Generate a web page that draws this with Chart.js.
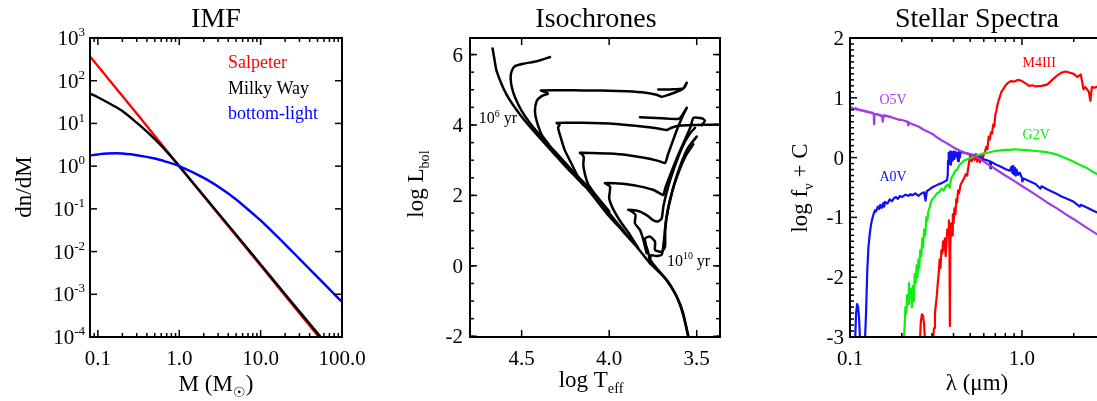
<!DOCTYPE html>
<html><head><meta charset="utf-8">
<script src="https://cdn.jsdelivr.net/npm/chart.js@4.4.1/dist/chart.umd.min.js"></script>
<style>
html,body{margin:0;padding:0;background:#fff;overflow:hidden;}
#wrap{position:relative;width:1097px;height:401px;overflow:hidden;background:#fff;}
canvas{position:absolute;top:0;}
</style></head><body>
<div id="wrap">
<canvas id="c1" width="365" height="401" style="left:0px"></canvas>
<canvas id="c2" width="365" height="401" style="left:365px"></canvas>
<canvas id="c3" width="380" height="401" style="left:730px"></canvas>
</div>
<script>
// ---------------- IMF panel data ----------------
const salpeterM = [0.08, 0.3, 1, 3, 10, 30, 60];
const salpeterN = [370, 17, 1.0, 0.077, 0.0047, 3.6e-4, 7.2e-5];
const milkyWayM = [0.08, 0.1, 0.15, 0.2, 0.3, 0.4, 0.5, 0.6, 0.7, 0.8, 1, 2, 5, 10, 20, 60];
const milkyWayN = [50, 41, 27, 19.5, 10.4, 6.4, 4.27, 3.0, 2.19, 1.65, 1.0, 0.203, 0.0247, 0.005, 0.001, 8.1e-5];
const bottomLightM = [0.08, 0.1, 0.13, 0.17, 0.2, 0.3, 0.5, 0.7, 1, 2, 3.4, 5, 8.7, 10, 20, 30, 50, 70, 100];
const bottomLightN = [1.78, 1.88, 1.97, 2.0, 1.97, 1.80, 1.51, 1.26, 1.0, 0.531, 0.285, 0.166, 0.0676, 0.0537, 0.0148, 0.00676, 0.00251, 0.00132, 6.6e-4];
const imfXTicks = [0.1, 1, 10, 100];
const imfXTickLabels = ['0.1', '1.0', '10.0', '100.0'];
const imfXMinor = [0.09,0.2,0.3,0.4,0.5,0.6,0.7,0.8,0.9,2,3,4,5,6,7,8,9,20,30,40,50,60,70,80,90];
const imfYTickExps = [3, 2, 1, 0, -1, -2, -3, -4];
const imfLegend = ['Salpeter', 'Milky Way', 'bottom-light'];

// ---------------- Isochrone panel data (log Teff, log Lbol) ----------------
const iso6T = [3.543,3.577,3.614,3.671,3.767,3.843,3.925,4.014,4.129,4.224,4.319,4.414,4.51,4.586,4.643,4.655,4.666];
const iso6L = [-2.15,-1.35,-0.875,-0.40,0.074,0.545,1.0,1.49,2.21,2.69,3.21,3.73,4.30,4.86,5.53,5.85,6.17];
const iso65T = [3.835,3.915,4.0,4.112,4.21,4.305,4.40,4.452,4.50,4.535,4.555,4.563,4.557,4.538,4.491,4.414,4.338];
const iso65L = [0.52,0.98,1.50,2.20,2.70,3.22,3.74,4.05,4.40,4.75,5.05,5.34,5.53,5.67,5.74,5.81,5.93];
const iso7T = [4.345,4.386,4.414,4.424,4.414,4.386,4.35,4.375,4.39,4.30,4.20,4.10,4.00,3.90,3.80,3.73,3.70,3.66,3.62,3.58,3.557,3.575,3.65,3.72];
const iso7L = [3.45,3.73,4.11,4.39,4.68,4.82,4.89,4.95,4.98,4.985,4.985,4.98,4.975,4.955,4.92,4.86,4.80,4.86,4.93,5.02,5.20,5.04,5.01,5.01];
const iso75T = [4.15,4.18,4.22,4.255,4.28,4.292,4.283,4.30,4.20,4.10,4.00,3.90,3.80,3.72,3.67,3.64,3.60,3.50,3.42,3.35];
const iso75L = [2.30,2.55,2.95,3.30,3.70,3.93,4.01,4.06,4.065,4.06,4.04,4.00,3.95,3.90,3.86,3.93,3.98,4.00,4.01,4.01];
const iso8T = [4.00,4.05,4.09,4.119,4.138,4.148,4.145,4.155,4.167,4.10,4.00,3.90,3.80,3.72,3.681,3.665,3.64,3.61,3.585,3.557,3.60,3.70,3.824];
const iso8L = [1.55,1.85,2.10,2.31,2.59,2.88,3.08,3.17,3.21,3.205,3.19,3.15,3.07,2.98,2.92,3.15,3.50,3.90,4.20,4.49,4.18,4.19,4.22];
const iso85T = [3.84,3.881,3.929,3.975,4.00,3.995,4.024,3.95,3.90,3.82,3.75,3.71,3.691,3.68,3.65,3.61,3.57,3.535,3.519,3.47,3.453,3.472];
const iso85L = [0.55,0.88,1.21,1.59,1.92,2.25,2.35,2.34,2.32,2.25,2.16,2.06,2.01,2.20,2.60,3.10,3.55,3.95,4.20,4.19,4.12,3.99];
const iso9T = [3.786,3.805,3.824,3.853,3.85,3.875,3.891,3.83,3.78,3.75,3.72,3.70,3.69,3.66,3.62,3.58,3.54,3.51];
const iso9L = [0.36,0.74,1.02,1.21,1.45,1.56,1.59,1.55,1.42,1.30,1.26,1.35,1.70,2.30,2.90,3.40,3.75,3.92];
const iso95T = [3.767,3.775,3.79,3.795,3.767,3.738,3.738,3.70,3.681,3.68,3.665,3.63,3.59,3.55,3.50];
const iso95L = [0.07,0.35,0.60,0.78,0.83,0.69,0.45,0.40,0.55,1.00,1.60,2.30,2.90,3.35,3.67];
const iso10T = [3.54,3.58,3.615,3.675,3.74,3.765,3.76,3.73,3.70,3.69,3.675,3.64,3.60,3.56,3.52];
const iso10L = [-2.15,-1.35,-0.87,-0.39,0.0,0.18,0.30,0.28,0.32,0.60,1.30,2.10,2.70,3.15,3.45];
const isoXTicks = [4.5, 4.0, 3.5];
const isoXTickLabels = ['4.5', '4.0', '3.5'];
const isoYTicks = [6, 4, 2, 0, -2];
const isoYTickLabels = ['6', '4', '2', '0', '-2'];

// ---------------- Spectra panel data (lambda in micron, log f_nu + C) ----------------
const o5vLam = [0.100,0.102,0.104,0.106,0.108,0.110,0.112,0.114,0.116,0.118,0.120,0.122,0.124,0.126,0.128,0.130,0.132,0.134,0.136,0.1375,0.138,0.1385,0.140,0.142,0.144,0.146,0.148,0.150,0.152,0.154,0.155,0.156,0.157,0.159,0.162,0.165,0.168,0.171,0.175,0.18,0.185,0.19,0.195,0.20,0.205,0.21,0.215,0.217,0.218,0.219,0.222,0.226,0.23,0.24,0.25,0.26,0.27,0.28,0.29,0.30,0.32,0.34,0.36,0.38,0.40,0.42,0.44,0.46,0.48,0.50,0.52,0.55,0.60,0.65,0.70,0.80,0.90,1.0,1.2,1.4,1.6,1.8,2.0,2.4,2.8,3.0];
const o5vFlux = [0.83,0.84,0.82,0.81,0.83,0.80,0.81,0.79,0.80,0.78,0.79,0.77,0.78,0.76,0.77,0.75,0.76,0.74,0.75,0.72,0.56,0.71,0.73,0.72,0.73,0.71,0.72,0.70,0.71,0.69,0.60,0.68,0.70,0.71,0.69,0.70,0.68,0.69,0.67,0.66,0.65,0.64,0.63,0.63,0.62,0.61,0.60,0.59,0.54,0.59,0.58,0.57,0.56,0.54,0.52,0.49,0.46,0.44,0.42,0.40,0.34,0.29,0.25,0.21,0.17,0.14,0.11,0.09,0.07,0.06,0.04,0.005,-0.065,-0.13,-0.19,-0.30,-0.39,-0.475,-0.62,-0.75,-0.85,-0.95,-1.03,-1.18,-1.30,-1.36];
const a0vSpikeLam = [0.107,0.1085,0.110,0.1115,0.113,0.1145];
const a0vSpikeFlux = [-3.1,-2.6,-2.45,-2.5,-2.7,-3.1];
const a0vLam = [0.122,0.124,0.126,0.128,0.130,0.132,0.134,0.136,0.138,0.140,0.142,0.145,0.148,0.150,0.153,0.156,0.158,0.160,0.165,0.170,0.175,0.180,0.185,0.190,0.195,0.200,0.210,0.220,0.225,0.230,0.240,0.250,0.260,0.270,0.275,0.280,0.290,0.300,0.310,0.320,0.330,0.340,0.350,0.360,0.366,0.370,0.372,0.375,0.378,0.380,0.383,0.386,0.390,0.395,0.400,0.405,0.410,0.415,0.420,0.425,0.430,0.435,0.440,0.460,0.480,0.500,0.520,0.550,0.580,0.600,0.620,0.650,0.656,0.660,0.700,0.750,0.800,0.850,0.870,0.880,0.890,0.900,0.910,0.920,0.930,0.950,0.970,1.000,1.005,1.020,1.100,1.200,1.280,1.300,1.400,1.500,1.600,1.700,1.800,1.900,2.000,2.170,2.200,2.400,2.600,2.800,3.000];
const a0vFlux = [-3.1,-2.6,-1.9,-1.5,-1.3,-1.15,-1.05,-0.98,-0.92,-0.88,-0.90,-0.82,-0.86,-0.79,-0.84,-0.76,-0.82,-0.74,-0.77,-0.70,-0.73,-0.68,-0.66,-0.69,-0.64,-0.66,-0.62,-0.64,-0.61,-0.63,-0.60,-0.64,-0.60,-0.58,-0.72,-0.56,-0.53,-0.50,-0.48,-0.46,-0.44,-0.43,-0.41,-0.39,-0.38,-0.30,-0.05,0.08,-0.10,0.06,0.10,-0.12,0.09,-0.05,0.10,-0.02,0.10,0.02,0.08,-0.06,0.09,0.0,0.10,0.08,0.07,0.05,0.04,0.02,-0.01,-0.03,-0.04,-0.06,-0.18,-0.07,-0.11,-0.15,-0.19,-0.22,-0.15,-0.26,-0.14,-0.28,-0.17,-0.30,-0.20,-0.29,-0.25,-0.34,-0.40,-0.35,-0.39,-0.44,-0.52,-0.48,-0.53,-0.57,-0.61,-0.65,-0.68,-0.71,-0.74,-0.82,-0.79,-0.84,-0.89,-0.93,-0.97];
const g2vLam = [0.205,0.208,0.210,0.213,0.215,0.218,0.220,0.223,0.226,0.229,0.232,0.235,0.238,0.241,0.244,0.247,0.250,0.253,0.256,0.260,0.263,0.266,0.270,0.274,0.278,0.282,0.286,0.290,0.295,0.300,0.310,0.320,0.330,0.340,0.350,0.360,0.370,0.380,0.385,0.390,0.400,0.410,0.420,0.430,0.440,0.450,0.460,0.480,0.500,0.520,0.550,0.580,0.600,0.650,0.700,0.750,0.800,0.850,0.900,1.000,1.100,1.200,1.300,1.400,1.500,1.600,1.700,1.800,2.000,2.200,2.400,2.600,2.800,3.000];
const g2vFlux = [-3.1,-2.8,-2.5,-2.6,-2.3,-2.45,-2.1,-2.35,-2.2,-2.5,-2.15,-2.4,-1.95,-2.1,-1.8,-2.0,-1.7,-1.85,-1.55,-1.65,-1.35,-1.5,-1.2,-1.3,-1.0,-1.05,-0.88,-0.85,-0.75,-0.70,-0.66,-0.60,-0.58,-0.52,-0.55,-0.48,-0.45,-0.50,-0.40,-0.33,-0.28,-0.22,-0.20,-0.14,-0.10,-0.08,-0.05,-0.03,-0.01,0.01,0.04,0.06,0.07,0.09,0.11,0.12,0.13,0.13,0.14,0.13,0.12,0.11,0.10,0.09,0.07,0.05,0.02,-0.01,-0.07,-0.13,-0.18,-0.24,-0.29,-0.33];
const m4iiiSpikeLam = [0.255,0.258,0.262,0.266,0.270,0.273];
const m4iiiSpikeFlux = [-3.1,-2.75,-2.62,-2.65,-2.8,-3.1];
const m4iiiLam = [0.303,0.308,0.312,0.316,0.320,0.324,0.328,0.332,0.336,0.340,0.344,0.348,0.352,0.356,0.360,0.364,0.368,0.372,0.376,0.379,0.381,0.383,0.387,0.392,0.396,0.400,0.405,0.410,0.415,0.420,0.425,0.430,0.440,0.450,0.460,0.470,0.480,0.490,0.500,0.510,0.520,0.530,0.540,0.550,0.560,0.570,0.580,0.590,0.600,0.610,0.620,0.630,0.640,0.650,0.660,0.670,0.680,0.690,0.700,0.710,0.720,0.740,0.760,0.780,0.800,0.830,0.860,0.900,0.950,1.000,1.050,1.100,1.150,1.200,1.300,1.400,1.500,1.600,1.700,1.800,1.900,2.000,2.100,2.200,2.280,2.330,2.380,2.450,2.500,2.550,2.650,2.800,3.000];
const m4iiiFlux = [-3.1,-2.85,-2.6,-2.45,-2.3,-2.1,-1.95,-1.7,-1.85,-1.55,-1.6,-1.4,-1.55,-1.35,-1.65,-1.45,-1.2,-1.3,-1.05,-1.6,-2.82,-1.5,-1.1,-1.3,-0.95,-1.1,-0.85,-0.95,-0.7,-0.75,-0.55,-0.6,-0.45,-0.40,-0.35,-0.28,-0.30,-0.12,0.03,-0.06,0.05,-0.04,0.06,-0.07,0.03,-0.08,0.04,-0.02,0.05,0.10,0.18,0.14,0.35,0.30,0.42,0.40,0.55,0.52,0.72,0.78,0.88,1.00,1.10,1.15,1.20,1.25,1.28,1.27,1.30,1.28,1.24,1.20,1.21,1.19,1.20,1.22,1.30,1.37,1.42,1.44,1.42,1.40,1.35,1.39,1.14,1.18,1.15,1.10,0.95,1.18,1.17,1.20,1.22];
const specXTicks = [0.1, 1.0];
const specXTickLabels = ['0.1', '1.0'];
const specXMinor = [0.2,0.3,0.4,0.5,0.6,0.7,0.8,0.9,2,3];
const specYTicks = [2, 1, 0, -1, -2, -3];
const specYTickLabels = ['2', '1', '0', '-1', '-2', '-3'];
const specLabels = ['O5V', 'A0V', 'G2V', 'M4III'];

// ---------------- helpers ----------------
const SERIF = '"Liberation Serif","Times New Roman",serif';
const fnt = s => s + 'px ' + SERIF;
function pts(xs, ys) { const n = Math.min(xs.length, ys.length); const out = []; for (let i = 0; i < n; i++) out.push({x: xs[i], y: ys[i]}); return out; }
function line(data, color, w, tension) {
  return {data, borderColor: color, borderWidth: w, showLine: true, pointRadius: 0, tension: tension || 0,
          borderJoinStyle: 'round', borderCapStyle: 'round', fill: false};
}
function drawRich(ctx, parts, x, y, size, align) {
  const small = size * 0.62;
  let total = 0;
  const ws = parts.map(([t, m]) => { ctx.font = fnt(m ? small : size); const w = ctx.measureText(t).width; total += w; return w; });
  let cx = align === 'center' ? x - total / 2 : (align === 'right' ? x - total : x);
  ctx.textAlign = 'left'; ctx.textBaseline = 'alphabetic';
  parts.forEach(([t, m], i) => {
    ctx.font = fnt(m ? small : size);
    const dy = m === 'sup' ? -size * 0.42 : (m === 'sub' ? size * 0.24 : 0);
    ctx.fillText(t, cx, y + dy);
    cx += ws[i];
  });
}
function framePlugin(o) {
  return {
    id: 'idlframe',
    afterDatasetsDraw(chart) {
      const ctx = chart.ctx, a = chart.chartArea, xs = chart.scales.x, ys = chart.scales.y;
      ctx.save();
      ctx.strokeStyle = '#000'; ctx.fillStyle = '#000'; ctx.lineCap = 'butt';
      const seg = (x1, y1, x2, y2) => { ctx.beginPath(); ctx.moveTo(x1, y1); ctx.lineTo(x2, y2); ctx.stroke(); };
      ctx.lineWidth = 1.5;
      const xt = (vals, len) => vals.forEach(v => { const p = xs.getPixelForValue(v); if (p < a.left - 0.5 || p > a.right + 0.5) return; seg(p, a.bottom, p, a.bottom - len); seg(p, a.top, p, a.top + len); });
      const yt = (vals, len) => vals.forEach(v => { const p = ys.getPixelForValue(v); if (p < a.top - 0.5 || p > a.bottom + 0.5) return; seg(a.left, p, a.left + len, p); seg(a.right, p, a.right - len, p); });
      xt(o.xMajor, 7); xt(o.xMinor || [], 4);
      yt(o.yMajor, 7); yt(o.yMinor || [], 4);
      ctx.lineWidth = 2;
      ctx.strokeRect(a.left, a.top, a.right - a.left, a.bottom - a.top);
      o.xLabels.forEach(([v, parts]) => drawRich(ctx, parts, xs.getPixelForValue(v), 365, 21, 'center'));
      o.yLabels.forEach(([v, parts]) => drawRich(ctx, parts, o.yLabelRight, ys.getPixelForValue(v) + 7, 21, 'right'));
      drawRich(ctx, [[o.title, '']], o.titleX, 27, 28, 'center');
      drawRich(ctx, o.xTitle, o.xTitleX, o.xTitleY, 23, 'center');
      ctx.save(); ctx.translate(o.yTitleX, o.yTitleY); ctx.rotate(-Math.PI / 2);
      drawRich(ctx, o.yTitle, 0, 0, 23, 'center'); ctx.restore();
      (o.texts || []).forEach(t => {
        ctx.fillStyle = t.color || '#000';
        const x = t.px !== undefined ? t.px : xs.getPixelForValue(t.xv);
        const y = t.py !== undefined ? t.py : ys.getPixelForValue(t.yv);
        drawRich(ctx, t.parts, x, y + t.size * 0.33, t.size, t.align || 'left');
      });
      ctx.restore();
    }
  };
}
const baseOpts = (pad, scales) => ({
  responsive: false, animation: false, devicePixelRatio: 1, events: [],
  layout: {padding: pad},
  plugins: {legend: {display: false}, tooltip: {enabled: false}, title: {display: false}},
  scales
});

// ---------------- Chart 1: IMF ----------------
new Chart(document.getElementById('c1'), {
  type: 'scatter',
  data: {datasets: [
    line(pts(bottomLightM, bottomLightN), '#0000ff', 2.4, 0.35),
    line(pts(milkyWayM, milkyWayN), '#000000', 2.4, 0.3),
    line(pts(salpeterM, salpeterN), '#ff0000', 2.4, 0)
  ]},
  options: baseOpts({left: 90, right: 23, top: 38, bottom: 64}, {
    x: {type: 'logarithmic', min: 0.08, max: 100, display: false, bounds: 'data'},
    y: {type: 'logarithmic', min: 1e-4, max: 1e3, display: false, bounds: 'data'}
  }),
  plugins: [framePlugin({
    xMajor: imfXTicks, xMinor: imfXMinor, yMajor: imfYTickExps.map(e => Math.pow(10, e)), yMinor: [],
    xLabels: imfXTicks.map((v, i) => [v, [[imfXTickLabels[i], '']]]),
    yLabels: imfYTickExps.map(e => [Math.pow(10, e), [['10', ''], [String(e), 'sup']]]),
    yLabelRight: 85,
    title: 'IMF', titleX: 216,
    xTitle: [['M (M', ''], ['\u2609', 'sub'], [')', '']], xTitleX: 216, xTitleY: 391,
    yTitle: [['dn/dM', '']], yTitleX: 31, yTitleY: 187,
    texts: [
      {parts: [[imfLegend[0], '']], px: 228, py: 62, size: 18, color: '#ff0000'},
      {parts: [[imfLegend[1], '']], px: 228, py: 88, size: 18, color: '#000000'},
      {parts: [[imfLegend[2], '']], px: 228, py: 113, size: 18, color: '#0000ff'}
    ]
  })]
});

// ---------------- Chart 2: Isochrones ----------------
const isoSets = [[iso6T, iso6L], [iso65T, iso65L], [iso7T, iso7L], [iso75T, iso75L], [iso8T, iso8L], [iso85T, iso85L], [iso9T, iso9L], [iso95T, iso95L], [iso10T, iso10L]];
const isoMinor = []; for (let v = -2; v <= 6.5; v += 0.5) isoMinor.push(v);
new Chart(document.getElementById('c2'), {
  type: 'scatter',
  data: {datasets: isoSets.map(([t, l]) => line(pts(t, l), '#000000', 2.5, 0.2))},
  options: baseOpts({left: 105, right: 10, top: 38, bottom: 64}, {
    x: {type: 'linear', min: 3.367, max: 4.795, reverse: true, display: false},
    y: {type: 'linear', min: -2.02, max: 6.47, display: false}
  }),
  plugins: [framePlugin({
    xMajor: isoXTicks, xMinor: [], yMajor: isoYTicks, yMinor: isoMinor,
    xLabels: isoXTicks.map((v, i) => [v, [[isoXTickLabels[i], '']]]),
    yLabels: isoYTicks.map((v, i) => [v, [[isoYTickLabels[i], '']]]),
    yLabelRight: 98,
    title: 'Isochrones', titleX: 231,
    xTitle: [['log T', ''], ['eff', 'sub']], xTitleX: 226, xTitleY: 387,
    yTitle: [['log L', ''], ['bol', 'sub']], yTitleX: 58, yTitleY: 184,
    texts: [
      {parts: [['10', ''], ['6', 'sup'], [' yr', '']], xv: 4.745, yv: 4.2, size: 16},
      {parts: [['10', ''], ['10', 'sup'], [' yr', '']], xv: 3.67, yv: 0.14, size: 16}
    ]
  })]
});

// ---------------- Chart 3: Stellar spectra ----------------
const specMinorY = []; for (let v = -30; v <= 20; v++) if (v % 10 !== 0) specMinorY.push(v / 10);
new Chart(document.getElementById('c3'), {
  type: 'scatter',
  data: {datasets: [
    line(pts(o5vLam, o5vFlux), '#a03ce6', 2.2, 0),
    line(pts(g2vLam, g2vFlux), '#10ee10', 2.2, 0),
    line(pts(a0vSpikeLam, a0vSpikeFlux), '#1010f0', 2.2, 0),
    line(pts(a0vLam, a0vFlux), '#1010f0', 2.2, 0),
    line(pts(m4iiiSpikeLam, m4iiiSpikeFlux), '#ff0000', 2.2, 0),
    line(pts(m4iiiLam, m4iiiFlux), '#ff0000', 2.2, 0)
  ]},
  options: baseOpts({left: 120, right: 6, top: 38, bottom: 64}, {
    x: {type: 'logarithmic', min: 0.1, max: 3.0, display: false, bounds: 'data'},
    y: {type: 'linear', min: -3, max: 2, display: false}
  }),
  plugins: [framePlugin({
    xMajor: specXTicks, xMinor: specXMinor, yMajor: specYTicks, yMinor: specMinorY,
    xLabels: specXTicks.map((v, i) => [v, [[specXTickLabels[i], '']]]),
    yLabels: specYTicks.map((v, i) => [v, [[specYTickLabels[i], '']]]),
    yLabelRight: 114,
    title: 'Stellar Spectra', titleX: 247,
    xTitle: [['\u03bb (\u03bcm)', '']], xTitleX: 247, xTitleY: 390,
    yTitle: [['log f', ''], ['\u03bd', 'sub'], [' + C', '']], yTitleX: 77, yTitleY: 188,
    texts: [
      {parts: [[specLabels[0], '']], xv: 0.178, yv: 0.97, size: 14, color: '#a03ce6', align: 'center'},
      {parts: [[specLabels[1], '']], xv: 0.178, yv: -0.32, size: 14, color: '#1010f0', align: 'center'},
      {parts: [[specLabels[2], '']], xv: 1.21, yv: 0.38, size: 14, color: '#10ee10', align: 'center'},
      {parts: [[specLabels[3], '']], xv: 1.26, yv: 1.59, size: 14, color: '#ff0000', align: 'center'}
    ]
  })]
});
</script>
</body></html>
